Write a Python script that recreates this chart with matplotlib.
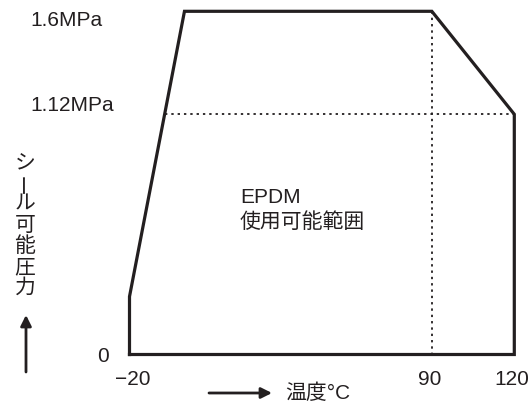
import matplotlib
matplotlib.use("Agg")
import matplotlib.pyplot as plt
import numpy as np

plt.rcParams['font.family'] = ['Liberation Sans', 'Noto Sans CJK JP', 'DejaVu Sans']

# outline of the usable range (temperature degC, pressure MPa)
temp = [-20, -20, 0, 90, 120, 120, -20]
pressure = [0, 0.27, 1.6, 1.6, 1.12, 0, 0]

x_ticks = [-20, 90, 120]
x_labels = ['−20', '90', '120']
y_labels = ['0', '1.12MPa', '1.6MPa']
p_mid = 1.12
t_mid = 90
y_title = list('シール可能圧力')
x_title = '温度°C'
region = ['EPDM', '使用可能範囲']

W, H = 532, 405
col = '#231f20'

fig = plt.figure(figsize=(W / 100, H / 100), dpi=100)
ax = fig.add_axes([0, 0, 1, 1])
ax.axis('off')

# pixel mapping: -20 -> 129.5, 120 -> 514.3 ; 0 -> 354.5, 1.6 -> 11.3
sx = (514.3 - 129.5) / 140.0
sy = (354.5 - 11.3) / 1.6
ax.set_xlim(-20 - 129.5 / sx, -20 + (W - 129.5) / sx)
ax.set_ylim((354.5 - H) / sy, 354.5 / sy)


def px(x, y):
    return x / W, 1 - y / H


ax.plot(temp, pressure, color=col, lw=2.3, solid_joinstyle='miter', solid_capstyle='projecting')

# dotted guides
ax.plot([t_mid, t_mid], [0, max(pressure)], color=col, lw=1.3, ls=(0, (1.3, 2.2)))
x_left = np.interp(p_mid, pressure[1:3], temp[1:3])
ax.plot([x_left, 120], [p_mid, p_mid], color=col, lw=1.3, ls=(0, (1.3, 2.2)))

fs = 15
# y labels (pixel spots from the reference)
for lab, (x, y) in zip(y_labels, [(103, 361.5), (30, 111), (30, 26)]):
    ha = 'center' if lab == '0' else 'left'
    fig.text(*px(x, y), lab, ha=ha, va='baseline', fontsize=fs, color=col)

for t, lab in zip(x_ticks, x_labels):
    xp = 129.5 + (t + 20) * sx
    fig.text(*px(xp + (3 if t == -20 else -2), 385), lab, ha='center', va='baseline',
             fontsize=fs, color=col)

fig.text(*px(240, 203), region[0], ha='left', va='baseline', fontsize=fs, color=col)
fig.text(*px(240, 222), region[1], ha='left', va='center', fontsize=fs, color=col)

# vertical axis title
for i, ch in enumerate(y_title):
    rot = 90 if ch == 'ー' else 0
    fig.text(*px(25, 162 + 21 * i), ch, ha='center', va='center', fontsize=fs,
             color=col, rotation=rot, family=['Noto Sans CJK JP'])

fig.text(*px(285, 393), x_title, ha='left', va='center', fontsize=fs, color=col)

# arrows
ax.annotate('', xy=px(26, 315), xytext=px(26, 372), xycoords='figure fraction',
            textcoords='figure fraction',
            arrowprops=dict(arrowstyle='-|>', color=col, lw=2, mutation_scale=16,
                            shrinkA=0, shrinkB=0))
ax.annotate('', xy=px(272, 393), xytext=px(209, 393), xycoords='figure fraction',
            textcoords='figure fraction',
            arrowprops=dict(arrowstyle='-|>', color=col, lw=2, mutation_scale=16,
                            shrinkA=0, shrinkB=0))

fig.savefig('out.png', dpi=100)
